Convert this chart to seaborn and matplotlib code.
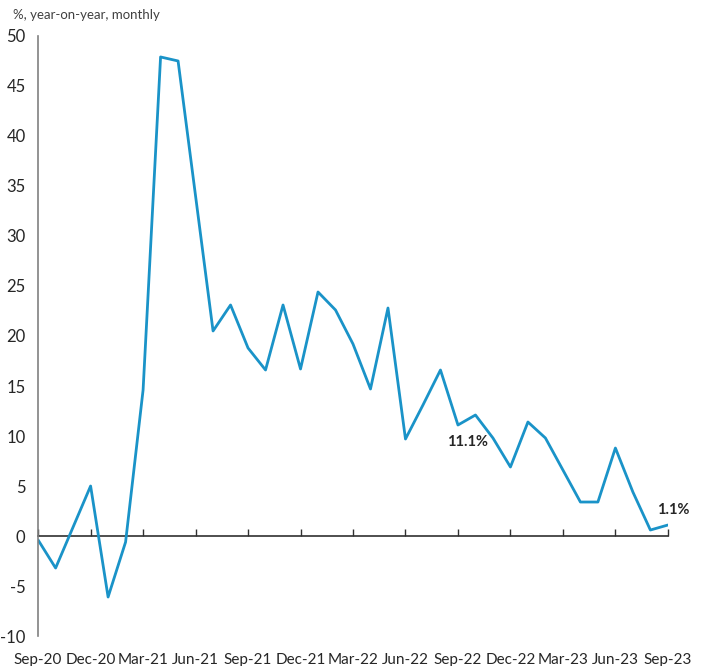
import matplotlib.pyplot as plt
import pandas as pd
import seaborn as sns

# Monthly data, Sep-20 to Sep-23
months = pd.date_range("2020-09-01", "2023-09-01", freq="MS").strftime("%b-%y").tolist()
values = [-0.4, -3.2, 0.9, 5.0, -6.1, -0.6, 14.6, 47.9, 47.5, 34.0,
          20.5, 23.1, 18.8, 16.6, 23.1, 16.7, 24.4, 22.6, 19.2, 14.7,
          22.8, 9.7, 13.1, 16.6, 11.1, 12.1, 9.8, 6.9, 11.4, 9.8,
          6.6, 3.4, 3.4, 8.8, 4.4, 0.6, 1.1]
tick_labels = months[::3]
y_ticks = [-10, -5, 0, 5, 10, 15, 20, 25, 30, 35, 40, 45, 50]

df = pd.DataFrame({"month": range(len(months)), "value": values})

sns.set_style("white")
plt.rcParams["font.family"] = ["Lato", "DejaVu Sans"]

fig = plt.figure(figsize=(7.06, 6.66), dpi=100)
ax = fig.add_axes([0.054, 0.045, 0.892, 0.901])

sns.lineplot(data=df, x="month", y="value", color="#1a93c8", linewidth=2.0, ax=ax)

ax.set_xlim(0, len(months) - 1)
ax.set_ylim(-10, 50)
ax.set_yticks(y_ticks)
ax.set_yticklabels([str(v) for v in y_ticks], fontsize=12)
ax.set_xticks(range(0, len(months), 3))
ax.set_xticklabels(tick_labels, fontsize=11)
ax.tick_params(axis="x", length=0, pad=12)
ax.tick_params(axis="y", length=0, pad=9)
ax.set_xlabel("")
ax.set_ylabel("")

for s in ["top", "right", "bottom"]:
    ax.spines[s].set_visible(False)
ax.spines["left"].set_color("#808080")
ax.spines["left"].set_linewidth(1.2)

# zero line with quarterly tick marks
sec = ax.secondary_xaxis(10 / 60)
sec.set_xticks(range(0, len(months), 3))
sec.set_xticklabels([])
sec.tick_params(direction="in", length=5, width=1, color="#303030")
sec.spines["bottom"].set_color("#303030")
sec.spines["bottom"].set_linewidth(1.2)

# labels for highlighted points
ax.annotate("11.1%", (24, values[24]), xytext=(7, -12), textcoords="offset points",
            ha="center", va="center", fontsize=10.5, fontweight="bold")
ax.annotate("1.1%", (36, values[36]), xytext=(4, 11), textcoords="offset points",
            ha="center", va="center", fontsize=10.5, fontweight="bold")

fig.text(0.018, 0.978, "%, year-on-year, monthly", fontsize=9.5, color="#404040",
         ha="left", va="center")

plt.savefig("out.png", dpi=100)
